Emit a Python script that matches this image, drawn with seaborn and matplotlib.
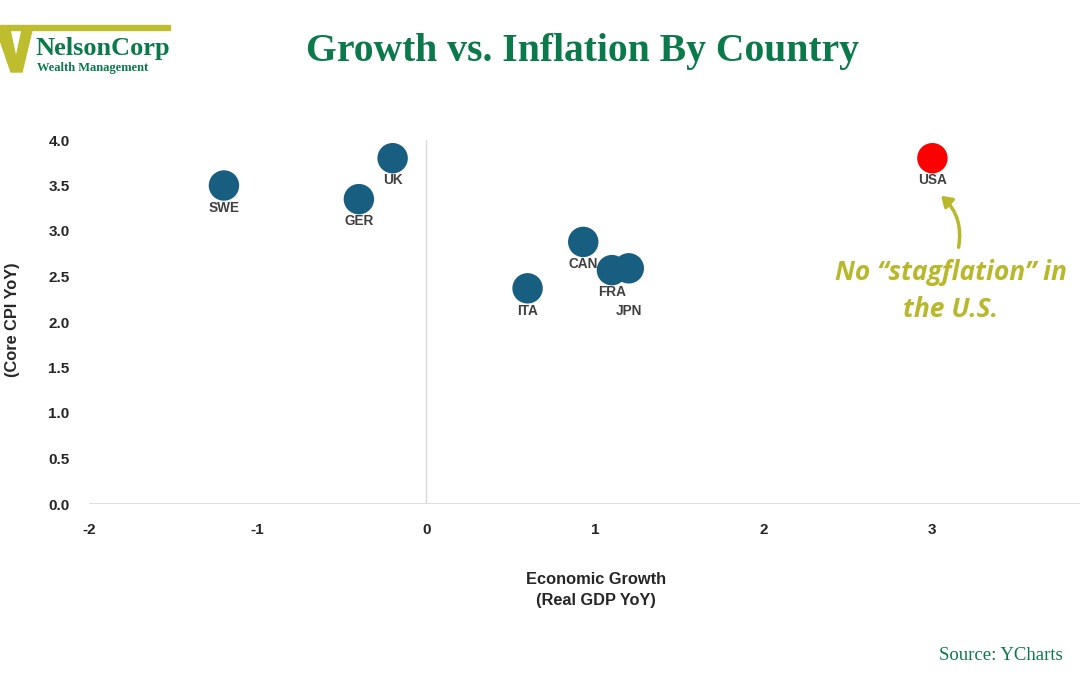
import matplotlib
matplotlib.use("Agg")
import matplotlib.pyplot as plt
import seaborn as sns
import pandas as pd
from matplotlib.patches import FancyArrowPatch, Polygon

countries = ["SWE", "GER", "UK", "ITA", "CAN", "FRA", "JPN", "USA"]
gdp_growth = [-1.2, -0.4, -0.2, 0.6, 0.93, 1.1, 1.2, 3.0]
core_cpi = [3.5, 3.35, 3.8, 2.37, 2.88, 2.57, 2.59, 3.8]
x_ticks = [-2, -1, 0, 1, 2, 3]
y_ticks = [0.0, 0.5, 1.0, 1.5, 2.0, 2.5, 3.0, 3.5, 4.0]
# label offsets below point (points)
label_dy = [-16, -16, -16, -16, -16, -16, -31, -16]
label_dx = [0, 0, 0, 0, 0, 0, 0, 0]

df = pd.DataFrame({"country": countries, "gdp": gdp_growth, "cpi": core_cpi})
df["group"] = ["US" if c == "USA" else "Other" for c in countries]

sns.set_theme(style="white")
plt.rcParams["font.family"] = ["Liberation Sans", "DejaVu Sans"]

fig = plt.figure(figsize=(10.8, 6.75), dpi=100)
ax = fig.add_axes([89 / 1080, 1 - 504 / 675, 1 - 89 / 1080, (504 - 140) / 675])

ax.axvline(0, color="#d9d9d9", lw=1, zorder=0)
ax.axhline(0, color="#d9d9d9", lw=1.2, zorder=0)

sns.scatterplot(data=df, x="gdp", y="cpi", hue="group",
                palette={"Other": "#185E80", "US": "#FF0000"},
                s=480, edgecolor="none", legend=False, ax=ax, zorder=3)

for c, x, y, dx, dy in zip(countries, gdp_growth, core_cpi, label_dx, label_dy):
    ax.annotate(c, (x, y), xytext=(dx, dy), textcoords="offset points",
                ha="center", va="center", fontsize=9.8, fontweight="bold",
                color="#404040", zorder=4)

ax.set_xlim(-2, 3.875)
ax.set_ylim(0, 4.0)
ax.set_xticks(x_ticks)
ax.set_yticks(y_ticks)
ax.set_xticklabels([str(t) for t in x_ticks])
ax.set_yticklabels([f"{t:.1f}" for t in y_ticks])
ax.tick_params(axis="x", labelsize=11, pad=14, length=0)
ax.tick_params(axis="y", labelsize=11, pad=14, length=0)
for lab in ax.get_xticklabels() + ax.get_yticklabels():
    lab.set_fontweight("bold")
    lab.set_color("#262626")
for s in ax.spines.values():
    s.set_visible(False)
ax.set_xlabel("")
ax.set_ylabel("")

fig.text(596 / 1080, 1 - 590 / 675, "Economic Growth\n(Real GDP YoY)", ha="center",
         va="center", fontsize=11.8, fontweight="bold", color="#262626", linespacing=1.45)
fig.text(13 / 1080, 1 - 320 / 675, "(Core CPI YoY)", rotation=90, ha="center",
         va="center", fontsize=11.8, fontweight="bold", color="#262626")

# annotation
olive = "#B8B82A"
fig.text(951 / 1080, 1 - 291 / 675, "No \u201cstagflation\u201d in\nthe U.S.", ha="center",
         va="center", fontsize=19, fontweight="bold", style="italic", color=olive,
         family=["Open Sans", "DejaVu Sans"], linespacing=1.5)
arrow = FancyArrowPatch((958 / 1080, 1 - 250 / 675), (939 / 1080, 1 - 194 / 675),
                        transform=fig.transFigure, connectionstyle="arc3,rad=0.3",
                        arrowstyle="-|>,head_length=6,head_width=4", color=olive, lw=2.5)
fig.patches.append(arrow)

# title
green = "#0B7A4B"
fig.text(583 / 1080, 1 - 52 / 675, "Growth vs. Inflation By Country", ha="center",
         va="center", fontsize=28.5, fontweight="bold", color=green,
         family=["Liberation Serif", "DejaVu Serif"])
fig.text(1001 / 1080, 1 - 655 / 675, "Source: YCharts", ha="center", va="center",
         fontsize=13.5, color=green, family=["Liberation Serif", "DejaVu Serif"])

# logo
logo_c = "#BDBD2E"
fig.patches.append(Polygon([(0, 1 - 25 / 675), (170 / 1080, 1 - 25 / 675),
                            (170 / 1080, 1 - 30 / 675), (0, 1 - 30 / 675)],
                           closed=True, transform=fig.transFigure, color=logo_c))
fig.patches.append(Polygon([(0, 1 - 30 / 675), (10 / 1080, 1 - 30 / 675),
                            (16 / 1080, 1 - 58 / 675), (22 / 1080, 1 - 30 / 675),
                            (32 / 1080, 1 - 30 / 675), (22 / 1080, 1 - 72 / 675),
                            (11 / 1080, 1 - 72 / 675), (0, 1 - 40 / 675)],
                           closed=True, transform=fig.transFigure, color=logo_c))
fig.text(35 / 1080, 1 - 49 / 675, "NelsonCorp", ha="left", va="center", fontsize=19,
         fontweight="bold", color=green, family=["Liberation Serif", "DejaVu Serif"])
fig.text(37 / 1080, 1 - 68 / 675, "Wealth Management", ha="left", va="center",
         fontsize=9, fontweight="bold", color=green, family=["Liberation Serif", "DejaVu Serif"])

fig.savefig("out.png", dpi=100)
